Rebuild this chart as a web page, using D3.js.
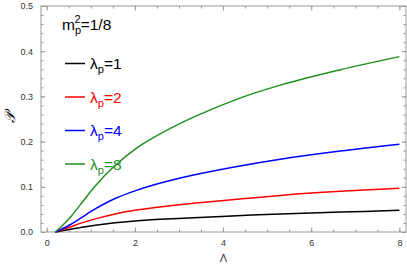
<!DOCTYPE html>
<html>
<head>
<meta charset="utf-8">
<script src="https://cdn.jsdelivr.net/npm/d3@7"></script>
<style>
body { margin: 0; background: #fff; }
svg { display: block; font-family: "Liberation Sans", Arial, sans-serif; }
.frame text { fill: #333; font-size: 9px; }
</style>
</head>
<body>
<svg width="407" height="264"></svg>
<script>
// values
var lambda = [0.19, 0.31, 0.53, 0.76, 1.1, 1.55, 2.0, 2.46, 3.33, 4.32, 5.3, 6.66, 8.0];
var p1 = [0, 0.002, 0.006, 0.0097, 0.015, 0.0205, 0.0245, 0.0275, 0.0315, 0.036, 0.040, 0.044, 0.048];
var p2 = [0, 0.004, 0.011, 0.019, 0.029, 0.040, 0.048, 0.054, 0.0635, 0.0725, 0.081, 0.090, 0.097];
var p4 = [0, 0.005, 0.016, 0.030, 0.051, 0.074, 0.091, 0.105, 0.126, 0.145, 0.161, 0.179, 0.194];
var p8 = [0, 0.010, 0.032, 0.060, 0.102, 0.147, 0.183, 0.211, 0.254, 0.294, 0.325, 0.359, 0.388];
var seriesNames = ["1", "2", "4", "8"];
var seriesColors = ["#000000", "#ff0000", "#0000ff", "#1f8f1f"];
var xTicks = [0, 2, 4, 6, 8];
var yTicks = [0, 0.1, 0.2, 0.3, 0.4, 0.5];

var series = [p1, p2, p4, p8];

var margin = { top: 6, right: 1, bottom: 32, left: 41 },
	width = 407 - margin.left - margin.right,
	height = 264 - margin.top - margin.bottom;

var xScale = d3.scaleLinear()
	.domain([-0.13, 8.15])
	.range([0, width]);

var yScale = d3.scaleLinear()
	.domain([0, 0.5])
	.range([height, 0]);

var svg = d3.select("svg")
	.append("g").attr("transform", "translate(" + margin.left + "," + margin.top + ")");

// frame ticks point inwards, like the original
function styleAxis(g) {
	g.select(".domain").remove();
	g.selectAll("line").attr("stroke", "#999");
}

var xMinor = d3.range(0, 8.01, 0.5);
var yMinor = d3.range(0, 0.501, 0.02);

var frame = svg.append("g").attr("class", "frame");

frame.append("g")
	.attr("transform", "translate(0," + height + ")")
	.call(d3.axisBottom(xScale).tickValues(xMinor).tickSize(-2.5).tickFormat(""))
	.call(styleAxis);
frame.append("g")
	.attr("transform", "translate(0," + height + ")")
	.call(d3.axisBottom(xScale).tickValues(xTicks).tickSize(-4.5).tickPadding(8).tickFormat(d3.format("d")))
	.call(styleAxis);
frame.append("g")
	.call(d3.axisTop(xScale).tickValues(xMinor).tickSize(-2.5).tickFormat(""))
	.call(styleAxis);
frame.append("g")
	.call(d3.axisTop(xScale).tickValues(xTicks).tickSize(-4.5).tickFormat(""))
	.call(styleAxis);

frame.append("g")
	.call(d3.axisLeft(yScale).tickValues(yMinor).tickSize(-2.5).tickFormat(""))
	.call(styleAxis);
frame.append("g")
	.call(d3.axisLeft(yScale).tickValues(yTicks).tickSize(-4.5).tickPadding(8).tickFormat(d3.format(".1f")))
	.call(styleAxis);
frame.append("g")
	.attr("transform", "translate(" + width + ",0)")
	.call(d3.axisRight(yScale).tickValues(yMinor).tickSize(-2.5).tickFormat(""))
	.call(styleAxis);
frame.append("g")
	.attr("transform", "translate(" + width + ",0)")
	.call(d3.axisRight(yScale).tickValues(yTicks).tickSize(-4.5).tickFormat(""))
	.call(styleAxis);

frame.append("rect")
	.attr("width", width)
	.attr("height", height)
	.attr("fill", "none")
	.attr("stroke", "#999")
	.attr("stroke-width", 1);

var line = d3.line()
	.x(function(d) { return xScale(d[0]); })
	.y(function(d) { return yScale(d[1]); })
	.curve(d3.curveCatmullRom.alpha(0.5));

series.forEach(function(s, i) {
	svg.append("path")
		.datum(lambda.map(function(l, j) { return [l, s[j]]; }))
		.attr("fill", "none")
		.attr("stroke", seriesColors[i])
		.attr("stroke-width", 1.5)
		.attr("d", line);
});

// axis labels
svg.append("text")
	.attr("x", width / 2)
	.attr("y", 256)
	.attr("text-anchor", "middle")
	.style("font-size", "11px")
	.style("fill", "#333")
	.text("Λ");

svg.append("text")
	.attr("transform", "translate(" + (-26) + "," + (111) + ") rotate(-90)")
	.attr("text-anchor", "middle")
	.style("font-size", "15px")
	.style("font-style", "italic")
	.style("font-family", "'DejaVu Serif', serif")
	.text("𝒫");

// legend
var legend = svg.append("g");

var title = legend.append("text")
	.attr("x", 21)
	.attr("y", 24)
	.style("font-size", "15.5px");
title.append("tspan").text("m");
title.append("tspan").attr("dy", 4).style("font-size", "11px").text("p");
title.append("tspan").attr("dx", -6.5).attr("dy", -11).style("font-size", "11px").text("2");
title.append("tspan").attr("dy", 7).text("=1/8");

seriesNames.forEach(function(n, i) {
	var y = 57.5 + i * 33.5;
	legend.append("line")
		.attr("x1", 24).attr("x2", 44)
		.attr("y1", y).attr("y2", y)
		.attr("stroke", seriesColors[i])
		.attr("stroke-width", 1.5);
	var t = legend.append("text")
		.attr("x", 49)
		.attr("y", y + 5.5)
		.style("font-size", "15.5px")
		.style("fill", seriesColors[i]);
	t.append("tspan").text("λ");
	t.append("tspan").attr("dy", 4).style("font-size", "11px").text("p");
	t.append("tspan").attr("dy", -4).text("=" + n);
});
</script>
</body>
</html>
